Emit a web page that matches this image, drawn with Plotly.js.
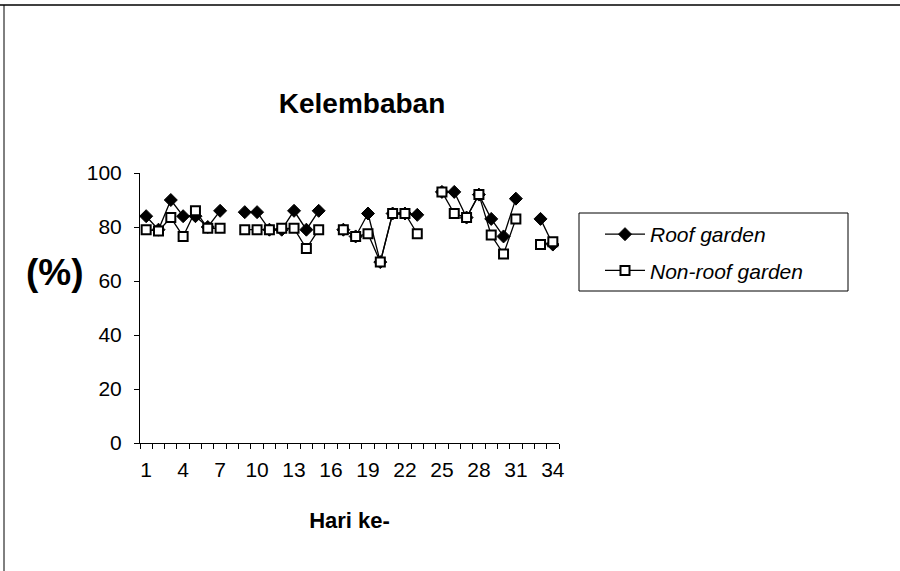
<!DOCTYPE html>
<html>
<head>
<meta charset="utf-8">
<script src="https://cdn.plot.ly/plotly-3.0.1.min.js"></script>
<style>html,body{margin:0;padding:0;background:#fff;}#chart{width:900px;height:571px;}</style>
</head>
<body>
<div id="chart"></div>
<script>
const days = Array.from({length: 34}, (_, i) => i + 1);
const roofGarden = [84, 79, 90, 84, 84, 80, 86, null, 85.5, 85.5, 79, 79, 86, 79, 86, null,
  79, 76.5, 85, 67, 85, 85, 84.5, null, 93, 93, 83.5, 92, 83, 76.5, 90.5, null, 83, 73.5];
const nonRoofGarden = [79, 78.5, 83.5, 76.5, 86, 79.5, 79.5, null, 79, 79, 79, 79.5, 79.5, 72, 79, null,
  79, 76.5, 77.5, 67, 85, 85, 77.5, null, 93, 85, 83.5, 92, 77, 70, 83, null, 73.5, 74.5];
const xTickVals = [1, 4, 7, 10, 13, 16, 19, 22, 25, 28, 31, 34];
const xTickText = ['1', '4', '7', '10', '13', '16', '19', '22', '25', '28', '31', '34'];

const font = 'Arial, "Liberation Sans", sans-serif';
const L = 140, R = 559, T = 173, B = 443;
const W = R - L, H = B - T;
const px = v => (v - L) / W;
const py = v => (B - v) / H;

const traces = [
  {
    x: days, y: roofGarden, name: 'Roof garden', type: 'scatter', mode: 'lines+markers',
    connectgaps: false, legendgroup: 'a',
    line: {color: '#000', width: 1.3},
    marker: {symbol: 'diamond', size: 10, color: '#000', line: {color: '#000', width: 1}}
  },
  {
    x: days, y: nonRoofGarden, name: 'Non-roof garden', type: 'scatter', mode: 'lines+markers',
    connectgaps: false, legendgroup: 'b',
    line: {color: '#000', width: 1.3},
    marker: {symbol: 'square', size: 9, color: '#fff', line: {color: '#000', width: 2}}
  }
];

const layout = {
  width: 900, height: 571,
  margin: {l: L, r: 900 - R, t: T, b: 571 - B},
  paper_bgcolor: '#fff', plot_bgcolor: '#fff',
  font: {family: font, color: '#000', size: 20},
  title: {
    text: '<b>Kelembaban</b>', font: {family: font, size: 28, color: '#000'},
    x: px(362), xref: 'paper', xanchor: 'center', y: 1 - 103 / 571, yref: 'container', yanchor: 'middle'
  },
  showlegend: true,
  legend: {
    x: px(600), xanchor: 'left', y: py(214), yanchor: 'top',
    borderwidth: 0, bgcolor: 'rgba(0,0,0,0)',
    font: {family: font, size: 21, style: 'italic', color: '#000'},
    tracegroupgap: 6, traceorder: 'grouped', itemwidth: 40
  },
  xaxis: {
    range: [0.5, 34.5], tickmode: 'array', tickvals: xTickVals, ticktext: xTickText,
    ticks: '', showgrid: false, zeroline: false,
    showline: true, linecolor: '#000', linewidth: 1,
    tickfont: {family: font, size: 21, color: '#000'}, ticklabelstandoff: 8,
    minor: {ticks: 'outside', tick0: 0.5, dtick: 1, ticklen: 5, tickcolor: '#000', showgrid: false},
    title: {text: '<b>Hari ke-</b>', font: {family: font, size: 22, color: '#000'}, standoff: 32}
  },
  yaxis: {
    range: [0, 100], dtick: 20, ticks: 'outside', ticklen: 5, tickcolor: '#000',
    showgrid: false, zeroline: false, showline: true, linecolor: '#000', linewidth: 1,
    tickfont: {family: font, size: 21, color: '#000'}, ticklabelstandoff: 8
  },
  annotations: [
    {text: '<b>(%)</b>', xref: 'paper', yref: 'paper', x: px(55), y: py(272),
     xanchor: 'center', yanchor: 'middle', showarrow: false,
     font: {family: font, size: 37, color: '#000'}}
  ],
  shapes: [
    {type: 'rect', xref: 'paper', yref: 'paper', x0: px(579), x1: px(848), y0: py(291), y1: py(213),
     line: {color: '#000', width: 1}, fillcolor: 'rgba(0,0,0,0)'},
    {type: 'line', xref: 'paper', yref: 'paper', x0: px(0), x1: px(900), y0: py(5), y1: py(5),
     line: {color: '#000', width: 1.5}},
    {type: 'line', xref: 'paper', yref: 'paper', x0: px(4), x1: px(4), y0: py(5), y1: py(571),
     line: {color: '#000', width: 1}}
  ]
};

Plotly.newPlot('chart', traces, layout, {displayModeBar: false, staticPlot: true});
</script>
</body>
</html>
